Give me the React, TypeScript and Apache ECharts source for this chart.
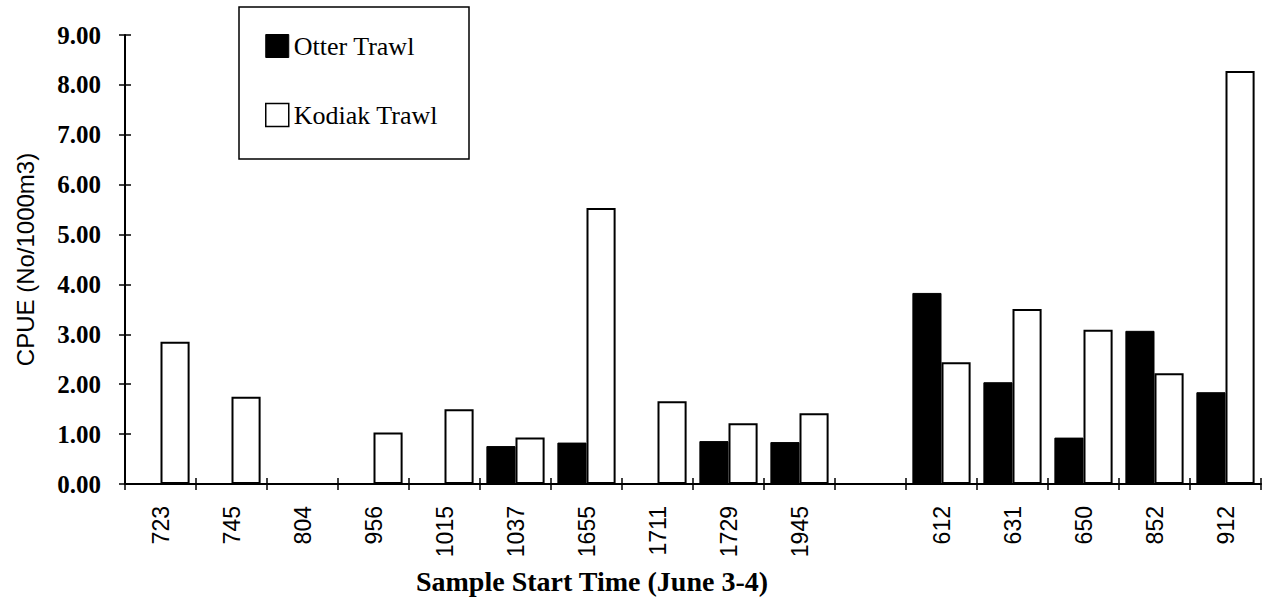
import React, { useEffect, useRef } from "react";
import * as echarts from "echarts";

const categories = ["723", "745", "804", "956", "1015", "1037", "1655", "1711", "1729", "1945", "", "612", "631", "650", "852", "912"];
const otterTrawl = [null, null, null, null, null, 0.76, 0.83, null, 0.86, 0.84, null, 3.83, 2.04, 0.93, 3.07, 1.84];
const kodiakTrawl = [2.85, 1.75, null, 1.03, 1.5, 0.93, 5.53, 1.66, 1.22, 1.42, null, 2.44, 3.51, 3.09, 2.22, 8.28];
const yTicks = { min: 0, max: 9, interval: 1 };

const SERIF = "'Liberation Serif', 'Times New Roman', serif";
const NARROW = "'Liberation Sans Narrow', 'Liberation Sans', Arial, sans-serif";

export default function App() {
  const ref = useRef<HTMLDivElement>(null);
  useEffect(() => {
    if (!ref.current) return;
    const chart = echarts.init(ref.current, undefined, { renderer: "svg" });
    chart.setOption({
      animation: false,
      backgroundColor: "#ffffff",
      grid: { left: 125, right: 6, top: 35, bottom: 116 },
      legend: {
        orient: "vertical",
        left: 260,
        top: 28,
        itemWidth: 23,
        itemHeight: 23,
        itemGap: 43,
        icon: "rect",
        textStyle: { fontFamily: SERIF, fontSize: 26, color: "#000" },
        data: [
          { name: "Otter Trawl", itemStyle: { color: "#000", borderColor: "#000", borderWidth: 1 } },
          { name: "Kodiak Trawl", itemStyle: { color: "#fff", borderColor: "#000", borderWidth: 1.5 } },
        ],
      },
      graphic: [
        {
          type: "rect",
          shape: { x: 239, y: 7, width: 230, height: 152 },
          style: { fill: "none", stroke: "#000", lineWidth: 1.5 },
          z: 10,
        },
        {
          type: "text",
          x: 592,
          y: 581,
          style: {
            text: "Sample Start Time (June 3-4)",
            fontFamily: SERIF,
            fontSize: 28,
            fontWeight: "bold",
            fill: "#000",
            textAlign: "center",
            textVerticalAlign: "middle",
          },
        },
      ],
      xAxis: [
        {
          type: "category",
          data: categories,
          position: "bottom",
          axisLine: { show: true, lineStyle: { color: "#000", width: 2 } },
          axisTick: { show: true, length: 6, lineStyle: { color: "#000", width: 1.5 } },
          axisLabel: {
            rotate: 90,
            margin: 22,
            color: "#000",
            fontFamily: NARROW,
            fontSize: 23,
            interval: 0,
          },
          splitLine: { show: false },
        },
        {
          type: "category",
          data: categories,
          position: "bottom",
          axisLine: { show: false },
          axisTick: { show: true, inside: true, length: 6, lineStyle: { color: "#000", width: 1.5 } },
          axisLabel: { show: false },
          splitLine: { show: false },
        },
      ],
      yAxis: [
        {
          type: "value",
          min: yTicks.min,
          max: yTicks.max,
          interval: yTicks.interval,
          position: "left",
          name: "CPUE (No/1000m3)",
          nameLocation: "middle",
          nameGap: 88,
          nameRotate: 90,
          nameTextStyle: { fontFamily: NARROW, fontSize: 24, color: "#000" },
          axisLine: { show: true, lineStyle: { color: "#000", width: 2 } },
          axisTick: { show: true, length: 6, lineStyle: { color: "#000", width: 1.5 } },
          axisLabel: {
            margin: 24,
            color: "#000",
            fontFamily: SERIF,
            fontSize: 25,
            fontWeight: "bold",
            formatter: (v: number) => v.toFixed(2),
          },
          splitLine: { show: false },
        },
        {
          type: "value",
          min: yTicks.min,
          max: yTicks.max,
          interval: yTicks.interval,
          position: "left",
          axisLine: { show: false },
          axisTick: { show: true, inside: true, length: 6, lineStyle: { color: "#000", width: 1.5 } },
          axisLabel: { show: false },
          splitLine: { show: false },
        },
      ],
      series: [
        {
          name: "Otter Trawl",
          type: "bar",
          xAxisIndex: 0,
          yAxisIndex: 0,
          data: otterTrawl,
          barGap: "0%",
          barCategoryGap: "18%",
          itemStyle: { color: "#000", borderColor: "#000", borderWidth: 1 },
        },
        {
          name: "Kodiak Trawl",
          type: "bar",
          xAxisIndex: 0,
          yAxisIndex: 0,
          data: kodiakTrawl,
          barGap: "0%",
          barCategoryGap: "18%",
          itemStyle: { color: "#fff", borderColor: "#000", borderWidth: 2 },
        },
      ],
    });
    return () => chart.dispose();
  }, []);
  return (
    <div
      ref={ref}
      style={{ position: "fixed", left: 0, top: 0, width: 1267, height: 600, background: "#fff" }}
    />
  );
}
